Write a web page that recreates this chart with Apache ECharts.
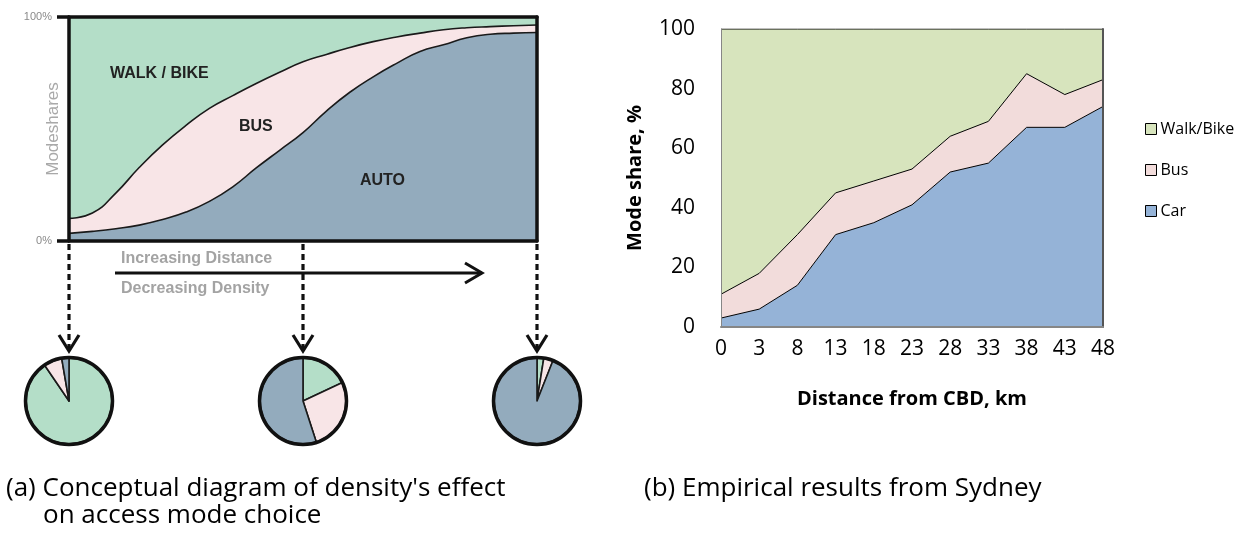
<!DOCTYPE html>
<html><head><meta charset="utf-8">
<script src="https://cdn.jsdelivr.net/npm/echarts@6/dist/echarts.min.js"></script>
<style>html,body{margin:0;padding:0;background:#fff}#c{width:1237px;height:533px}</style>
</head><body><div id="c"></div>
<script>
// ---- (a) conceptual diagram: position along distance (0..100) and mode shares ----
const conceptX    = [0, 5, 10, 15, 20, 25, 30, 35, 40, 45, 50, 55, 60, 65, 70, 75, 80, 85, 90, 95, 100];
const conceptAuto = [3.4, 4.3, 5.5, 7.1, 9.6, 12.9, 17.7, 24.2, 32.6, 40.5, 48.4, 58.0, 66.4, 73.3, 79.3, 84.6, 87.6, 90.7, 92.3, 92.8, 93.1];
const conceptBus  = [6.7, 8.2, 15.9, 25.7, 33.3, 38.7, 41.5, 40.7, 37.7, 34.8, 31.6, 25.3, 20.0, 15.7, 11.8, 8.2, 6.7, 4.5, 3.4, 3.3, 3.3];
const conceptWalk = [89.9, 87.5, 78.6, 67.2, 57.1, 48.4, 40.8, 35.1, 29.7, 24.7, 20.0, 16.7, 13.6, 11.0, 8.9, 7.2, 5.7, 4.8, 4.3, 3.9, 3.6];
const conceptYTicks = ['0%', '100%'];
// pies below the diagram: [walk, bus, auto] at positions 0, 50, 100
const piePositions = [0, 50, 100];
const pieWalk = [90.5, 18, 2.5];
const pieBus  = [6.8, 27, 3.5];
const pieAuto = [2.7, 55, 94];

// ---- (b) Sydney empirical results ----
const distances = ['0', '3', '8', '13', '18', '23', '28', '33', '38', '43', '48'];
const carShare  = [3, 6, 14, 31, 35, 41, 52, 55, 67, 67, 74];
const busShare  = [8, 12, 17, 14, 14, 12, 12, 14, 18, 11, 9];
const walkShare = [89, 82, 69, 55, 51, 47, 36, 31, 15, 22, 17];

const C = {
  aWalk: '#b4dec8', aBus: '#f8e5e7', aAuto: '#93abbd',
  bWalk: '#d7e4bd', bBus: '#f2dcdb', bCar: '#95b3d7'
};
const FONT_B = '"Open Sans", sans-serif';
const FONT_A = '"Liberation Sans", Arial, sans-serif';

const chart = echarts.init(document.getElementById('c'), null, {renderer: 'canvas'});

const conceptSeries = [
  {name: 'AUTO', data: conceptAuto, color: C.aAuto, line: 1.6},
  {name: 'BUS', data: conceptBus, color: C.aBus, line: 1.6},
  {name: 'WALK / BIKE', data: conceptWalk, color: C.aWalk, line: 0}
].map(s => ({
  name: s.name, type: 'line', xAxisIndex: 0, yAxisIndex: 0, stack: 'concept',
  data: s.data, smooth: 0.5, showSymbol: false, silent: true,
  lineStyle: {color: '#1a1a1a', width: s.line},
  itemStyle: {color: s.color},
  areaStyle: {color: s.color, opacity: 1}, z: 2
}));

const sydneySeries = [
  {name: 'Car', data: carShare, color: C.bCar},
  {name: 'Bus', data: busShare, color: C.bBus},
  {name: 'Walk/Bike', data: walkShare, color: C.bWalk}
].map(s => ({
  name: s.name, type: 'line', xAxisIndex: 2, yAxisIndex: 2, stack: 'sydney',
  data: s.data, showSymbol: false, silent: true,
  lineStyle: {color: '#000', width: 1},
  itemStyle: {color: s.color, borderColor: '#000', borderWidth: 1},
  areaStyle: {color: s.color, opacity: 1}, z: 2
}));

const frameLine = {show: true, onZero: false, lineStyle: {color: '#111', width: 3.5}};
const cats = conceptX.map(String);

const option = {
  animation: false,
  backgroundColor: '#fff',
  grid: [
    {left: 69, top: 17, width: 468, height: 224},
    {left: 721, top: 29, width: 382, height: 298}
  ],
  xAxis: [
    {gridIndex: 0, type: 'category', data: cats, boundaryGap: false, z: 5, axisLine: frameLine,
     axisTick: {show: false}, axisLabel: {show: false}, splitLine: {show: false}},
    {gridIndex: 0, type: 'category', data: cats, boundaryGap: false, position: 'top', z: 5, axisLine: frameLine,
     axisTick: {show: false}, axisLabel: {show: false}, splitLine: {show: false}},
    {gridIndex: 1, type: 'category', data: distances, boundaryGap: false, z: 5,
     axisLine: {lineStyle: {color: '#868686', width: 2}}, axisTick: {show: false},
     axisLabel: {color: '#000', fontSize: 21, fontFamily: FONT_B, margin: 12, interval: 0},
     name: 'Distance from CBD, km', nameLocation: 'middle', nameGap: 62, nameMoveOverlap: false,
     nameTextStyle: {color: '#000', fontSize: 20, fontWeight: 'bold', fontFamily: FONT_B}}
  ],
  yAxis: [
    {gridIndex: 0, type: 'value', min: 0, max: 100, interval: 100, z: 5, axisLine: frameLine,
     axisTick: {show: true, length: 12, lineStyle: {color: '#111', width: 3.5}},
     axisLabel: {color: '#8a8a8a', fontSize: 11, fontFamily: FONT_A, margin: 17,
                 formatter: v => conceptYTicks[v === 0 ? 0 : 1]},
     splitLine: {show: false},
     name: 'Modeshares', nameLocation: 'middle', nameGap: 7, nameMoveOverlap: false,
     nameTextStyle: {color: '#a9a9a9', fontSize: 17, fontFamily: FONT_A}},
    {gridIndex: 0, type: 'value', min: 0, max: 100, position: 'right', z: 5, axisLine: frameLine,
     axisTick: {show: false}, axisLabel: {show: false}, splitLine: {show: false}},
    {gridIndex: 1, type: 'value', min: 0, max: 100, interval: 20, z: 5,
     axisLine: {show: true, lineStyle: {color: '#868686', width: 1}}, axisTick: {show: false},
     axisLabel: {color: '#000', fontSize: 21, fontFamily: FONT_B, margin: 26},
     splitLine: {show: false},
     name: 'Mode share, %', nameLocation: 'middle', nameGap: 76, nameMoveOverlap: false,
     nameTextStyle: {color: '#000', fontSize: 20, fontWeight: 'bold', fontFamily: FONT_B}},
    {gridIndex: 1, type: 'value', min: 0, max: 100, position: 'right', z: 5,
     axisLine: {show: true, lineStyle: {color: '#555', width: 2}},
     axisTick: {show: false}, axisLabel: {show: false}, splitLine: {show: false}}
  ],
  legend: {
    data: ['Walk/Bike', 'Bus', 'Car'], orient: 'vertical', left: 1140, top: 115,
    icon: 'rect', itemWidth: 11, itemHeight: 11, itemGap: 23, selectedMode: false,
    itemStyle: {borderColor: '#000', borderWidth: 1},
    lineStyle: {width: 0},
    textStyle: {color: '#000', fontSize: 16, fontFamily: FONT_B, lineHeight: 18, padding: [0, 0, 0, -1]}
  },
  series: conceptSeries.concat(sydneySeries)
};
chart.setOption(option);

// positions of the pie stations along the conceptual axis
const px = piePositions.map(p => chart.convertToPixel({xAxisIndex: 0, yAxisIndex: 0}, [conceptX.indexOf(p), 0]));
const top0 = px[0][1];
const pieCY = 401, pieR = 43;

const pieSeries = piePositions.map((p, i) => ({
  type: 'pie', center: [px[i][0], pieCY], radius: pieR, startAngle: 90, clockwise: true,
  silent: true, label: {show: false}, labelLine: {show: false},
  itemStyle: {borderColor: '#1a1a1a', borderWidth: 1.6},
  data: [
    {name: 'walk', value: pieWalk[i], itemStyle: {color: C.aWalk}},
    {name: 'bus', value: pieBus[i], itemStyle: {color: C.aBus}},
    {name: 'auto', value: pieAuto[i], itemStyle: {color: C.aAuto}}
  ]
}));

const g = [];
px.forEach(pt => {
  const x = pt[0];
  g.push({type: 'line', shape: {x1: x, y1: top0 + 3, x2: x, y2: 349},
          style: {stroke: '#111', lineWidth: 3.2, lineDash: [6, 4]}, z: 10});
  g.push({type: 'polyline', shape: {points: [[x - 10, 335], [x, 351], [x + 10, 335]]},
          style: {stroke: '#111', lineWidth: 3.2, fill: null}, z: 10});
  g.push({type: 'circle', shape: {cx: x, cy: pieCY, r: pieR + 0.5},
          style: {stroke: '#111', lineWidth: 3.5, fill: null}, z: 10});
});
// distance arrow
g.push({type: 'line', shape: {x1: 115, y1: 273, x2: 482, y2: 273}, style: {stroke: '#111', lineWidth: 3}, z: 10});
g.push({type: 'polyline', shape: {points: [[465, 263], [482, 273], [465, 283]]},
        style: {stroke: '#111', lineWidth: 3, fill: null}, z: 10});
g.push({type: 'text', left: 121, top: 251, style: {text: 'Increasing Distance', fill: '#a3a3a3', font: 'bold 16px ' + FONT_A}, z: 10});
g.push({type: 'text', left: 121, top: 281, style: {text: 'Decreasing Density', fill: '#a3a3a3', font: 'bold 16px ' + FONT_A}, z: 10});
// area labels
g.push({type: 'text', left: 110, top: 66, style: {text: 'WALK / BIKE', fill: '#222', font: 'bold 16px ' + FONT_A}, z: 10});
g.push({type: 'text', left: 239, top: 119, style: {text: 'BUS', fill: '#222', font: 'bold 16px ' + FONT_A}, z: 10});
g.push({type: 'text', left: 360, top: 173, style: {text: 'AUTO', fill: '#222', font: 'bold 16px ' + FONT_A}, z: 10});
// captions
g.push({type: 'text', left: 6, top: 476, style: {text: "(a) Conceptual diagram of density's effect", fill: '#000', font: '26px ' + FONT_B}, z: 10});
g.push({type: 'text', left: 43, top: 503, style: {text: 'on access mode choice', fill: '#000', font: '26px ' + FONT_B}, z: 10});
g.push({type: 'text', left: 644, top: 476, style: {text: '(b) Empirical results from Sydney', fill: '#000', font: '26px ' + FONT_B}, z: 10});

chart.setOption({series: conceptSeries.concat(sydneySeries, pieSeries), graphic: g});
</script></body></html>
